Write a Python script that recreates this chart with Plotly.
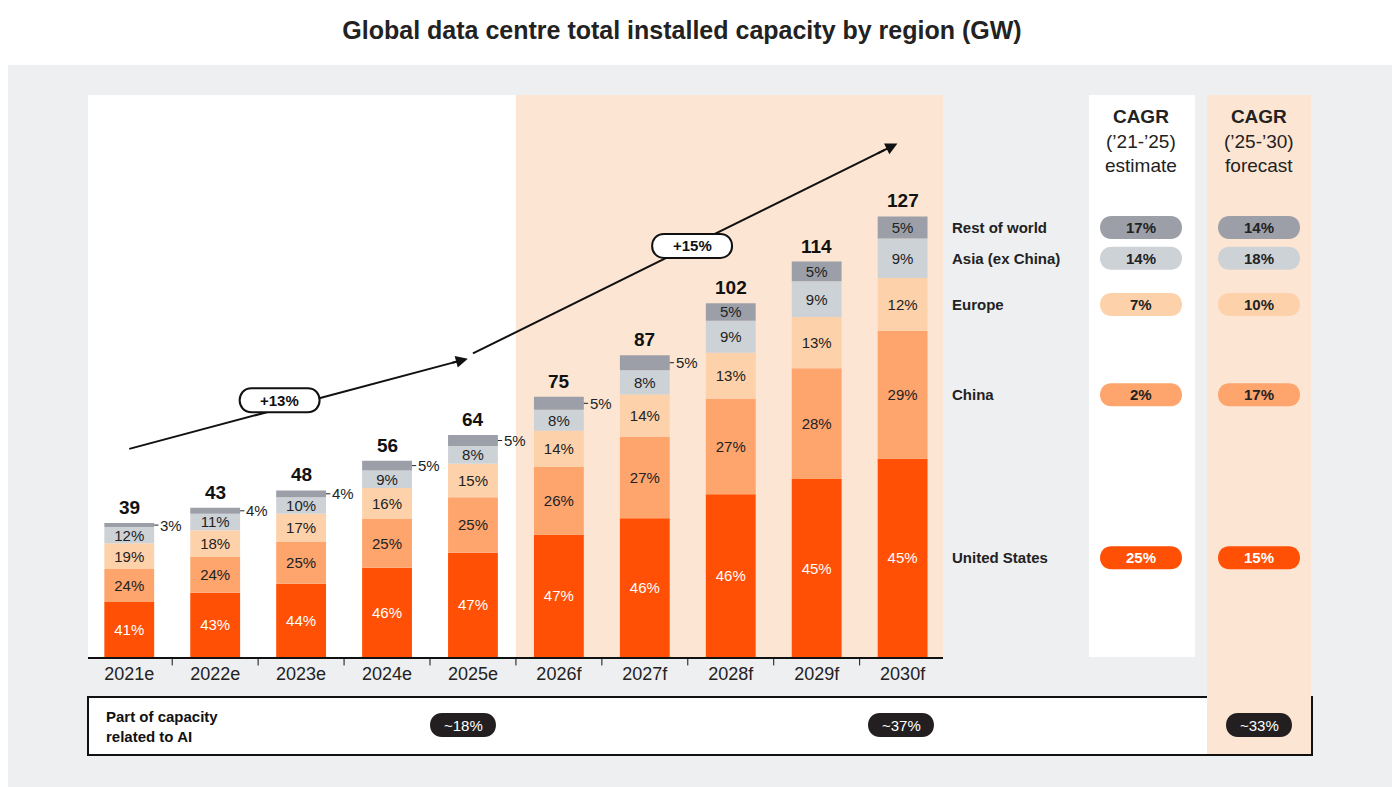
import plotly.graph_objects as go

years = ["2021e", "2022e", "2023e", "2024e", "2025e", "2026f", "2027f", "2028f", "2029f", "2030f"]
totals = [39, 43, 48, 56, 64, 75, 87, 102, 114, 127]
regions = ["United States", "China", "Europe", "Asia (ex China)", "Rest of world"]
us = [41, 43, 44, 46, 47, 47, 46, 46, 45, 45]
china = [24, 24, 25, 25, 25, 26, 27, 27, 28, 29]
europe = [19, 18, 17, 16, 15, 14, 14, 13, 13, 12]
asia = [12, 11, 10, 9, 8, 8, 8, 9, 9, 9]
row = [3, 4, 4, 5, 5, 5, 5, 5, 5, 5]
cagr_21_25 = [25, 2, 7, 14, 17]
cagr_25_30 = [15, 17, 10, 18, 14]
ai_share = ["~18%", "~37%", "~33%"]
growth = ["+13%", "+15%"]

colors = ["#ff5005", "#fea46d", "#fdd1aa", "#cdd2d7", "#9c9fa8"]
text_cols = ["white", "#222", "#222", "#222", "#222"]
shares = [us, china, europe, asia, row]
PEACH = "#fde5d3"
FONT = "Liberation Sans"

# page pixel helpers (plot area spans 88..943 x, 95..657 y on the page)
def pxx(p):
    return (p - 88) / 855

def pxy(p):
    return (657 - p) / 562


def pill(hw, hh):
    c = hh * 1.33
    return (f"M {-hw + hh},{-hh} L {hw - hh},{-hh} C {hw - hh + c},{-hh} {hw - hh + c},{hh} {hw - hh},{hh} "
            f"L {-hw + hh},{hh} C {-hw + hh - c},{hh} {-hw + hh - c},{-hh} {-hw + hh},{-hh} Z")


fig = go.Figure()
xs = list(range(len(years)))
bottoms = [0.0] * len(years)
mids = []
for k, (name, sh) in enumerate(zip(regions, shares)):
    vals = [t * s / 100 for t, s in zip(totals, sh)]
    labels = [f"{s}%" for s in sh]
    if k == 4:
        labels = [l if i >= 7 else "" for i, l in enumerate(labels)]
    fig.add_trace(go.Bar(
        x=xs, y=vals, base=bottoms, name=name, width=0.58,
        marker=dict(color=colors[k], line=dict(width=0)),
        text=labels, textposition="inside", insidetextanchor="middle", constraintext="none",
        textfont=dict(color=text_cols[k], size=15, family=FONT),
        showlegend=False, hoverinfo="skip"))
    mids.append([b + v / 2 for b, v in zip(bottoms, vals)])
    bottoms = [b + v for b, v in zip(bottoms, vals)]

ann = []
shapes = []


def add_text(x, y, text, xref="paper", yref="paper", size=15, color="#222", xanchor="center",
             yanchor="middle", **kw):
    ann.append(dict(x=x, y=y, xref=xref, yref=yref, text=text, showarrow=False, xanchor=xanchor,
                    yanchor=yanchor, font=dict(size=size, color=color), **kw))


def add_pill(xa, ya, xref, yref, fill, line_col="rgba(0,0,0,0)", lw=0, hw=40, hh=11.5):
    shapes.append(dict(type="path", xref=xref, yref=yref, xsizemode="pixel", ysizemode="pixel",
                       xanchor=xa, yanchor=ya, path=pill(hw, hh), fillcolor=fill,
                       line=dict(color=line_col, width=lw), layer="above"))


# outside RoW labels with small leader
for i in range(7):
    shapes.append(dict(type="line", xref="x", yref="y", x0=i + 0.29, x1=i + 0.34,
                       y0=mids[4][i], y1=mids[4][i], line=dict(color="#222", width=1)))
    add_text(i + 0.34, mids[4][i], f"{row[i]}%", xref="x", yref="y", xanchor="left")
# totals
for i, t in enumerate(totals):
    add_text(i, bottoms[i], f"<b>{t}</b>", xref="x", yref="y", size=19, color="#111",
             yanchor="bottom", yshift=3)

# growth arrows: line as shape (under the pill), head as a short annotation arrow
for (x0, y0, x1, y1, lab, lx, ly) in [(0, 60, 3.94, 86, growth[0], 1.75, 74),
                                      (4.0, 87.5, 8.94, 148, growth[1], 6.55, 118.5)]:
    shapes.append(dict(type="line", xref="x", yref="y", x0=x0, y0=y0, x1=x1 - (x1 - x0) * 0.03,
                       y1=y1 - (y1 - y0) * 0.03, line=dict(color="#111", width=2)))
    ann.append(dict(x=x1, y=y1, ax=x1 - (x1 - x0) * 0.05, ay=y1 - (y1 - y0) * 0.05, xref="x", yref="y",
                    axref="x", ayref="y", showarrow=True, arrowhead=2, arrowsize=1.2, arrowwidth=2,
                    arrowcolor="#111", text=""))
    add_pill(lx, ly, "x", "y", "white", "#111", 2, 40, 12)
    add_text(lx, ly, f"<b>{lab}</b>", xref="x", yref="y", color="#111")

# backgrounds
shapes.append(dict(type="rect", xref="paper", yref="paper", x0=pxx(0), x1=pxx(1400),
                   y0=pxy(800), y1=pxy(65), fillcolor="#eeeff1", line=dict(width=0), layer="below"))
shapes.append(dict(type="rect", xref="paper", yref="paper", x0=0, x1=1, y0=0, y1=1,
                   fillcolor="white", line=dict(width=0), layer="below"))
shapes.append(dict(type="rect", xref="x", yref="paper", x0=4.5, x1=9.47, y0=0, y1=1,
                   fillcolor=PEACH, line=dict(width=0), layer="below"))
shapes.append(dict(type="rect", xref="paper", yref="paper", x0=pxx(1089), x1=pxx(1195), y0=0, y1=1,
                   fillcolor="white", line=dict(width=0), layer="below"))
shapes.append(dict(type="rect", xref="paper", yref="paper", x0=pxx(88), x1=pxx(1312), y0=pxy(755), y1=pxy(697),
                   fillcolor="white", line=dict(color="#111", width=2), layer="below"))
shapes.append(dict(type="rect", xref="paper", yref="paper", x0=pxx(1207), x1=pxx(1311), y0=pxy(754), y1=1,
                   fillcolor=PEACH, line=dict(width=0), layer="below"))
for i in range(10):
    shapes.append(dict(type="line", xref="x", yref="paper", x0=i + 0.5, x1=i + 0.5, y0=0, y1=-0.015,
                       line=dict(color="#111", width=1)))

# legend + CAGR pills at 2030 segment mids
for k in range(5):
    ym = mids[k][9]
    add_text(pxx(950), ym, f"<b>{regions[k]}</b>", yref="y", xanchor="left")
    for cx, v in [(1141, cagr_21_25[k]), (1259, cagr_25_30[k])]:
        add_pill(pxx(cx), ym, "paper", "y", colors[k], hw=41, hh=11.5)
        add_text(pxx(cx), ym, f"<b>{v}%</b>", yref="y", color=text_cols[k])

for cx, sub, sub2 in [(1141, "(’21-’25)", "estimate"), (1259, "(’25-’30)", "forecast")]:
    add_text(pxx(cx), pxy(104), f"<b>CAGR</b><br>{sub}<br>{sub2}", yanchor="top", size=19)

# AI row
add_text(pxx(104), pxy(726), "<b>Part of capacity<br>related to AI</b>", xanchor="left", color="#111",
         align="left")
for cx, lab in zip([463, 901, 1259], ai_share):
    add_pill(pxx(cx), pxy(725), "paper", "paper", "#231f20", hw=33, hh=12)
    add_text(pxx(cx), pxy(725), lab, color="white")

# page has an 8px body margin, so the figure is 8px smaller and shifted
fig.update_layout(
    width=1392, height=779, barmode="overlay",
    margin=dict(l=80, r=457, t=87, b=130),
    paper_bgcolor="white", plot_bgcolor="rgba(0,0,0,0)",
    font=dict(family=FONT, color="#222"),
    title=dict(text="<b>Global data centre total installed capacity by region (GW)</b>",
               x=(682 - 88) / 855, xref="paper", xanchor="center", y=1 - 22 / 779, yanchor="middle",
               font=dict(size=25, color="#222")),
    xaxis=dict(range=[-0.48, 9.47], tickvals=xs, ticktext=years, showgrid=False, zeroline=False,
               showline=True, linecolor="#111", linewidth=1.5, tickfont=dict(size=18, color="#222"),
               ticks="", fixedrange=True),
    yaxis=dict(range=[0, 162], visible=False, fixedrange=True),
    uniformtext=dict(minsize=15, mode="show"),
    shapes=shapes, annotations=ann,
)
fig.write_html("out.html")
